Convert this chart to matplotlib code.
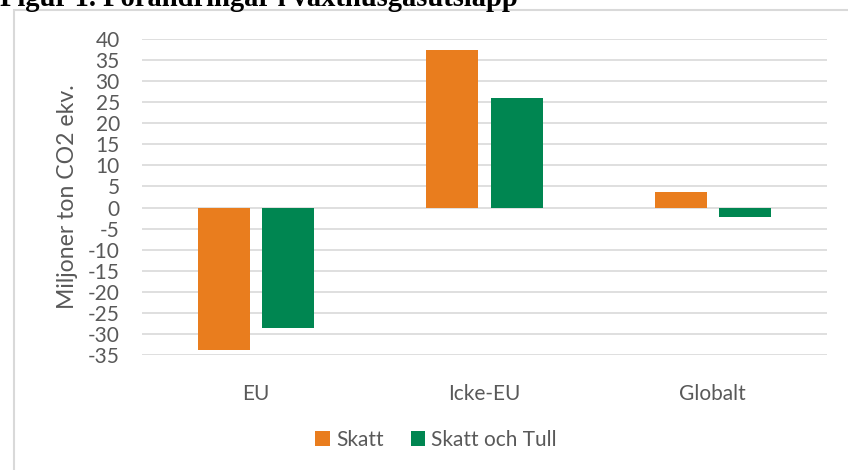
import matplotlib
matplotlib.use("Agg")
import matplotlib.pyplot as plt
from matplotlib.patches import Rectangle
import numpy as np

# data
categories = ["EU", "Icke-EU", "Globalt"]
skatt = [-33.8, 37.4, 3.7]
skatt_och_tull = [-28.5, 26.0, -2.3]
yticks = list(range(-35, 41, 5))

orange = "#E97D1E"
green = "#008651"
grey_txt = "#595959"
grid_col = "#D9D9D9"

plt.rcParams['font.family'] = ['Lato', 'DejaVu Sans']

fig = plt.figure(figsize=(8.48, 4.70), dpi=100)
W, H = 848, 470
ax = fig.add_axes([142 / W, 1 - 355 / H, (827 - 142) / W, (355 - 39) / H])

x = np.arange(len(categories)) + 0.5
bw = 0.228
ax.bar(x - 0.141, skatt, bw, color=orange, label="Skatt", zorder=3)
ax.bar(x + 0.141, skatt_och_tull, bw, color=green, label="Skatt och Tull", zorder=3)

ax.set_xlim(0, 3)
ax.set_ylim(-35, 40)
ax.set_yticks(yticks)
ax.set_yticklabels([str(t) for t in yticks])
ax.set_xticks(x)
ax.set_xticklabels(categories)
ax.yaxis.grid(True, color=grid_col, linewidth=1.2, zorder=0)
ax.set_axisbelow(True)
for s in ax.spines.values():
    s.set_visible(False)
ax.tick_params(axis='y', length=0, pad=16, labelsize=15, labelcolor=grey_txt)
ax.tick_params(axis='x', length=0, pad=21, labelsize=15, labelcolor=grey_txt)

ax.set_ylabel("Miljoner ton CO2 ekv.", fontsize=16.6, color=grey_txt)
ax.yaxis.set_label_coords(-0.093, 0.5)

fig.legend(loc='center', bbox_to_anchor=(436 / W, 1 - 440 / H), ncol=2, frameon=False,
           fontsize=15, handlelength=0.7, handleheight=0.7, handletextpad=0.3,
           columnspacing=1.3, labelcolor=grey_txt)

# chart frame, right and bottom edges fall outside the picture
fig.patches.append(Rectangle((14 / W, -0.1), 1.0, 1.1 - 10 / H, transform=fig.transFigure,
                             fill=False, edgecolor=grid_col, linewidth=1.5))

# title sits mostly above the top edge, as in the source
fig.text(0, 1 - 5.5 / H, "Figur 1. Förändringar i växthusgasutsläpp", fontsize=20.6,
         fontweight='bold', family=['Liberation Serif', 'DejaVu Serif'], va='baseline', ha='left')

fig.savefig("out.png", dpi=100)
